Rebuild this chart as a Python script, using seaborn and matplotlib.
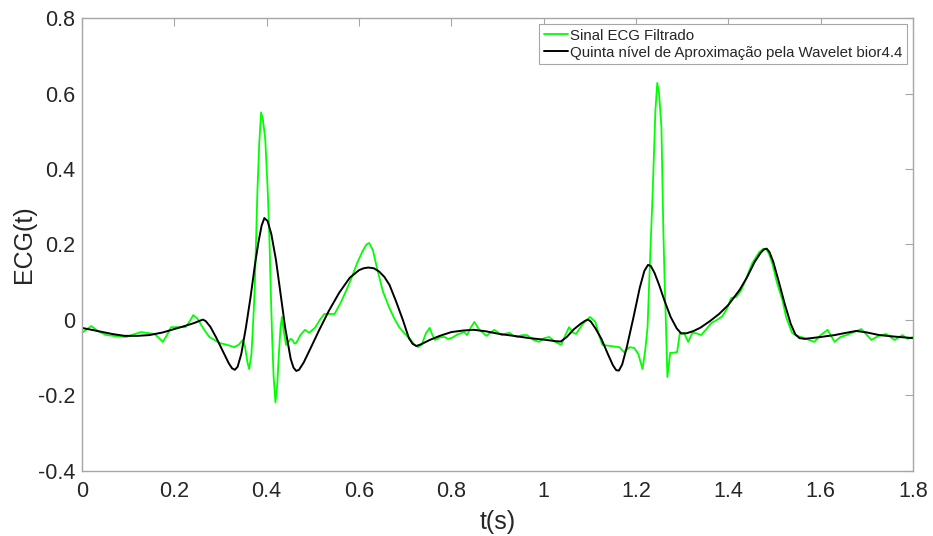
import numpy as np
import pandas as pd
import matplotlib
matplotlib.use("Agg")
import matplotlib.pyplot as plt
import seaborn as sns

# Filtered ECG signal (time in s, amplitude)
t_ecg = [0.000, 0.020, 0.035, 0.053, 0.075, 0.096, 0.112, 0.128, 0.145, 0.157,
         0.167, 0.175, 0.184, 0.193, 0.211, 0.224, 0.233, 0.241, 0.250, 0.258,
         0.267, 0.276, 0.298, 0.315, 0.330, 0.340, 0.348, 0.353, 0.358, 0.362,
         0.367, 0.371, 0.374, 0.377, 0.380, 0.384, 0.388, 0.392, 0.397, 0.402,
         0.406, 0.409, 0.412, 0.415, 0.419, 0.423, 0.426, 0.430, 0.433, 0.437,
         0.442, 0.449, 0.452, 0.456, 0.460, 0.464, 0.473, 0.483, 0.492, 0.505,
         0.515, 0.525, 0.536, 0.547, 0.560, 0.573, 0.585, 0.596, 0.608, 0.616,
         0.622, 0.630, 0.640, 0.652, 0.665, 0.676, 0.687, 0.698, 0.709, 0.720,
         0.728, 0.736, 0.745, 0.753, 0.759, 0.765, 0.775, 0.785, 0.793, 0.800,
         0.814, 0.828, 0.834, 0.842, 0.850, 0.860, 0.876, 0.893, 0.909, 0.918,
         0.926, 0.935, 0.943, 0.953, 0.964, 0.977, 0.990, 1.001, 1.012, 1.025,
         1.038, 1.047, 1.055, 1.063, 1.070, 1.085, 1.100, 1.112, 1.120, 1.127,
         1.146, 1.164, 1.174, 1.186, 1.196, 1.205, 1.214, 1.220, 1.225, 1.231,
         1.236, 1.242, 1.246, 1.250, 1.255, 1.259, 1.262, 1.265, 1.268, 1.271,
         1.274, 1.280, 1.289, 1.295, 1.304, 1.313, 1.322, 1.330, 1.341, 1.352,
         1.363, 1.375, 1.387, 1.397, 1.406, 1.417, 1.428, 1.440, 1.452, 1.467,
         1.475, 1.482, 1.488, 1.495, 1.505, 1.517, 1.525, 1.538, 1.548, 1.558,
         1.575, 1.586, 1.600, 1.615, 1.630, 1.643, 1.656, 1.672, 1.688, 1.700,
         1.710, 1.725, 1.742, 1.760, 1.777, 1.788, 1.800]
ecg_filtrado = [-0.034, -0.016, -0.030, -0.040, -0.043, -0.045, -0.038, -0.032, -0.035, -0.037,
                -0.048, -0.058, -0.040, -0.019, -0.019, -0.019, -0.004, 0.013, 0.004, -0.013,
                -0.030, -0.045, -0.061, -0.066, -0.072, -0.065, -0.053, -0.070, -0.110, -0.130,
                -0.090, 0.000, 0.080, 0.210, 0.344, 0.470, 0.550, 0.530, 0.477, 0.350,
                0.212, 0.070, -0.053, -0.150, -0.218, -0.170, -0.098, -0.020, 0.008, -0.030,
                -0.066, -0.055, -0.050, -0.053, -0.062, -0.061, -0.040, -0.026, -0.034, -0.020,
                0.000, 0.016, 0.016, 0.016, 0.045, 0.080, 0.115, 0.151, 0.183, 0.200,
                0.204, 0.185, 0.132, 0.075, 0.034, 0.005, -0.019, -0.035, -0.048, -0.065,
                -0.072, -0.065, -0.035, -0.021, -0.040, -0.053, -0.046, -0.045, -0.050, -0.048,
                -0.038, -0.032, -0.040, -0.020, -0.005, -0.025, -0.042, -0.026, -0.040, -0.036,
                -0.034, -0.042, -0.045, -0.040, -0.040, -0.052, -0.058, -0.048, -0.045, -0.058,
                -0.066, -0.040, -0.019, -0.033, -0.037, -0.010, 0.008, -0.005, -0.040, -0.066,
                -0.069, -0.072, -0.085, -0.072, -0.074, -0.090, -0.130, -0.080, -0.018, 0.180,
                0.336, 0.556, 0.628, 0.600, 0.511, 0.246, 0.100, -0.019, -0.151, -0.120,
                -0.087, -0.087, -0.085, -0.034, -0.034, -0.058, -0.034, -0.035, -0.040, -0.025,
                -0.008, 0.000, 0.010, 0.030, 0.058, 0.061, 0.079, 0.115, 0.151, 0.180,
                0.188, 0.188, 0.175, 0.151, 0.100, 0.053, 0.008, -0.034, -0.042, -0.045,
                -0.053, -0.058, -0.040, -0.026, -0.058, -0.045, -0.040, -0.032, -0.024, -0.040,
                -0.053, -0.042, -0.037, -0.053, -0.040, -0.050, -0.045]

# Fifth-level approximation (bior4.4 wavelet)
t_aprox = [0.000, 0.037, 0.065, 0.092, 0.120, 0.146, 0.175, 0.200, 0.225, 0.243,
           0.255, 0.262, 0.268, 0.278, 0.290, 0.304, 0.318, 0.325, 0.331, 0.337,
           0.345, 0.355, 0.365, 0.375, 0.382, 0.389, 0.395, 0.402, 0.410, 0.420,
           0.430, 0.440, 0.452, 0.458, 0.464, 0.470, 0.480, 0.495, 0.514, 0.535,
           0.557, 0.580, 0.600, 0.610, 0.620, 0.632, 0.644, 0.655, 0.666, 0.680,
           0.695, 0.708, 0.716, 0.724, 0.735, 0.753, 0.775, 0.800, 0.825, 0.848,
           0.875, 0.904, 0.935, 0.969, 1.000, 1.025, 1.037, 1.050, 1.065, 1.080,
           1.090, 1.096, 1.102, 1.112, 1.125, 1.140, 1.150, 1.157, 1.163, 1.170,
           1.180, 1.195, 1.208, 1.218, 1.226, 1.232, 1.240, 1.250, 1.262, 1.275,
           1.288, 1.298, 1.310, 1.325, 1.340, 1.360, 1.380, 1.400, 1.424, 1.440,
           1.457, 1.470, 1.477, 1.483, 1.489, 1.497, 1.510, 1.522, 1.535, 1.545,
           1.554, 1.565, 1.580, 1.600, 1.630, 1.655, 1.677, 1.700, 1.727, 1.760,
           1.800]
ecg_aprox = [-0.021, -0.030, -0.037, -0.042, -0.042, -0.040, -0.033, -0.024, -0.015, -0.008,
             -0.002, 0.001, -0.003, -0.018, -0.045, -0.080, -0.115, -0.128, -0.132, -0.124,
             -0.090, -0.020, 0.060, 0.150, 0.205, 0.250, 0.270, 0.262, 0.228, 0.160,
             0.070, -0.020, -0.103, -0.126, -0.135, -0.132, -0.113, -0.075, -0.026, 0.025,
             0.072, 0.112, 0.132, 0.137, 0.139, 0.137, 0.128, 0.114, 0.093, 0.050,
             0.000, -0.048, -0.063, -0.069, -0.064, -0.053, -0.042, -0.032, -0.028, -0.026,
             -0.030, -0.037, -0.042, -0.048, -0.052, -0.056, -0.057, -0.045, -0.025, -0.010,
             -0.002, 0.001, -0.004, -0.022, -0.050, -0.093, -0.120, -0.133, -0.134, -0.118,
             -0.072, 0.010, 0.085, 0.130, 0.146, 0.143, 0.125, 0.093, 0.050, 0.008,
             -0.022, -0.036, -0.035, -0.029, -0.020, -0.003, 0.016, 0.040, 0.079, 0.112,
             0.154, 0.178, 0.187, 0.189, 0.180, 0.155, 0.098, 0.043, -0.010, -0.038,
             -0.048, -0.050, -0.048, -0.045, -0.040, -0.034, -0.029, -0.033, -0.040, -0.044,
             -0.048]

legend_labels = ["Sinal ECG Filtrado", "Quinta nível de Aproximação pela Wavelet bior4.4"]
x_ticks = [0, 0.2, 0.4, 0.6, 0.8, 1, 1.2, 1.4, 1.6, 1.8]
y_ticks = [-0.4, -0.2, 0, 0.2, 0.4, 0.6, 0.8]

sns.set_theme(style="white")
plt.rcParams["font.family"] = ["Liberation Sans", "DejaVu Sans"]

df_f = pd.DataFrame({"t": t_ecg, "ecg": ecg_filtrado})
df_a = pd.DataFrame({"t": t_aprox, "ecg": ecg_aprox})

fig = plt.figure(figsize=(9.33, 5.36), dpi=100)
ax = fig.add_axes([0.0879, 0.1213, 0.8907, 0.8451])

sns.lineplot(data=df_f, x="t", y="ecg", ax=ax, color="#00FF00", lw=1.3,
             estimator=None, sort=False, label=legend_labels[0])
sns.lineplot(data=df_a, x="t", y="ecg", ax=ax, color="#000000", lw=1.4,
             estimator=None, sort=False, label=legend_labels[1])

ax.set_xlim(0, 1.8)
ax.set_ylim(-0.4, 0.8)
ax.set_xticks(x_ticks)
ax.set_xticklabels([f"{v:g}" for v in x_ticks])
ax.set_yticks(y_ticks)
ax.set_yticklabels([f"{v:g}" for v in y_ticks])

for s in ax.spines.values():
    s.set_visible(True)
    s.set_color("#A6A6A6")
    s.set_linewidth(1.0)

ax.tick_params(axis="both", which="major", direction="in", length=6, width=0.8,
               color="#A6A6A6", top=True, right=True, labelsize=15.5,
               labelcolor="#262626")
ax.tick_params(axis="x", pad=7)
ax.tick_params(axis="y", pad=5)

ax.set_xlabel("t(s)", fontsize=18, color="#262626", labelpad=6)
ax.set_ylabel("ECG(t)", fontsize=18, color="#262626", labelpad=1)

leg = ax.legend(loc="upper right", fontsize=10.8, frameon=True, fancybox=False,
                edgecolor="#A6A6A6", framealpha=1, handlelength=1.6, handletextpad=0.15,
                borderpad=0.3, labelspacing=0.2, borderaxespad=0.4)
leg.get_frame().set_linewidth(0.8)

fig.savefig("out.png", dpi=100)
